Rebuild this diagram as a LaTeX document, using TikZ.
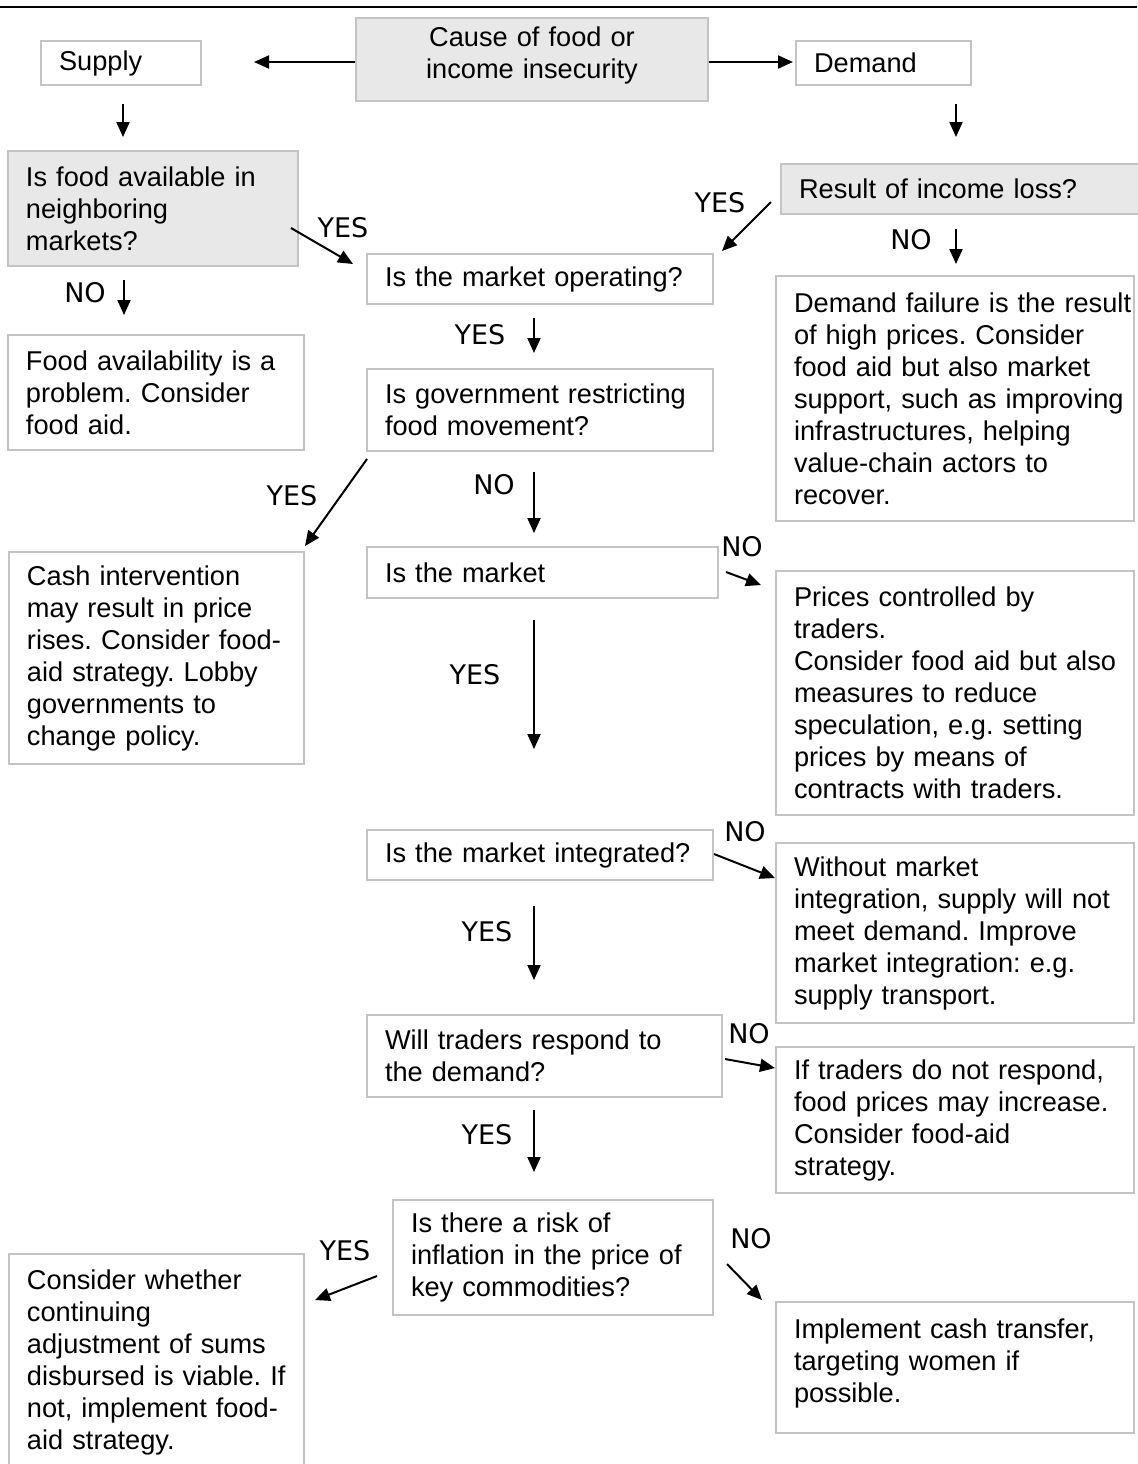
\documentclass[tikz,border=0pt]{standalone}
\usepackage{fontspec}
\setmainfont{Liberation Sans}
\newfontfamily\lblfamily{DejaVu Sans}
\usetikzlibrary{arrows.meta,calc}
\definecolor{boxline}{HTML}{C4C4C4}
\definecolor{boxfill}{HTML}{E8E8E8}
\begin{document}
\frenchspacing
\begin{tikzpicture}[x=0.5pt,y=-0.5pt,
  framed/.style={draw=boxline, line width=1pt, anchor=north west, inner sep=0pt,
    font=\fontsize{13.6pt}{16pt}\selectfont},
  box/.style={framed, align=left, execute at begin node={\leftskip=9pt}},
  cbox/.style={framed, align=center},
  sz/.style 2 args={minimum width=#1*0.5pt, minimum height=#2*0.5pt, text width=#1*0.5pt},
  shaded/.style={fill=boxfill},
  lbl/.style={font=\lblfamily\fontsize{13.5pt}{16pt}\selectfont, inner sep=0pt},
  arr/.style={line width=1pt, -{Triangle[length=7.5pt,width=6.5pt]}},
]
\useasboundingbox (0,0) rectangle (1137,1464);

% header rule
\draw[line width=1.3pt] (0,7) -- (1137,7);

% top row
\node[box, sz={160}{44}] (supply) at (40,40) {Supply};
\node[cbox, shaded, sz={352}{83}] (cause) at (355,17) {Cause of food or\\income insecurity\\[-9pt]\mbox{}};
\node[box, sz={175}{44}] (demand) at (795,40) {Demand};

% left column
\node[box, shaded, sz={290}{115}] (isfood) at (7,150) {Is food available in\\neighboring\\markets?};
\node[box, sz={296}{115}] (favail) at (7,334) {Food availability is a\\problem. Consider\\food aid.};
\node[box, sz={295}{212}] (cash) at (8,551) {Cash intervention\\may result in price\\rises. Consider food-\\aid strategy. Lobby\\governments to\\change policy.};
\node[box, sz={295}{217}] (consider) at (8,1253) {Consider whether\\continuing\\adjustment of sums\\disbursed is viable. If\\not, implement food-\\aid strategy.};

% middle column
\node[box, sz={346}{50}] (operating) at (366,253) {Is the market operating?};
\node[box, sz={346}{82}] (gov) at (366,368) {Is government restricting\\food movement?};
\node[box, sz={351}{51}] (market) at (366,546) {Is the market};
\node[box, sz={346}{50}] (integ) at (366,829) {Is the market integrated?};
\node[box, sz={355}{82}] (will) at (366,1014) {Will traders respond to\\the demand?};
\node[box, sz={320}{115}] (risk) at (392,1199) {Is there a risk of\\inflation in the price of\\key commodities?};

% right column
\node[box, shaded, sz={365}{50}] (result) at (780,163) {Result of income loss?};
\node[box, sz={358}{245}] (dfail) at (775,275) {Demand failure is the result\\of high prices. Consider\\food aid but also market\\support, such as improving\\infrastructures, helping\\value-chain actors to\\recover.};
\node[box, sz={358}{244}] (prices) at (775,570) {Prices controlled by\\traders.\\Consider food aid but also\\measures to reduce\\speculation, e.g. setting\\prices by means of\\contracts with traders.};
\node[box, sz={358}{180}] (without) at (775,842) {Without market\\integration, supply will not\\meet demand. Improve\\market integration: e.g.\\supply transport.};
\node[box, sz={358}{146}] (iftraders) at (775,1046) {If traders do not respond,\\food prices may increase.\\Consider food-aid\\strategy.};
\node[box, sz={358}{131}] (implement) at (775,1301) {Implement cash transfer,\\targeting women if\\possible.\\[-9pt]\mbox{}};

% branch labels
\node[lbl] (l1) at (343,228) {YES};
\node[lbl] (l2) at (720,203) {YES};
\node[lbl] (l3) at (911,240) {NO};
\node[lbl] (l4) at (85,293) {NO};
\node[lbl] (l5) at (480,335) {YES};
\node[lbl] (l6) at (292,496) {YES};
\node[lbl] (l7) at (494,485) {NO};
\node[lbl] (l8) at (742,547) {NO};
\node[lbl] (l9) at (475,675) {YES};
\node[lbl] (l10) at (745,832) {NO};
\node[lbl] (l11) at (487,932) {YES};
\node[lbl] (l12) at (749,1034) {NO};
\node[lbl] (l13) at (487,1135) {YES};
\node[lbl] (l14) at (345,1251) {YES};
\node[lbl] (l15) at (751,1239) {NO};

% connectors
\draw[arr] ($(cause.west)+(0,2.5)$) -- ($(supply.east)+(52,-1)$);
\draw[arr] ($(cause.east)+(0,2.5)$) -- ($(demand.west)+(-2,-1)$);
\draw[arr] ($(supply.south)+(2,18)$) -- ($(isfood.north)+(-30,-13)$);
\draw[arr] ($(demand.south)+(72.5,18)$) -- ($(result.north)+(-7.5,-26)$);
\draw[arr] ($(isfood.east)+(-8,19.5)$) -- ($(operating.north west)+(-13,11)$);
\draw[arr] ($(result.west)+(-9,13)$) -- ($(operating.north east)+(8,-2)$);
\draw[arr] ($(result.south)+(-7.5,14)$) -- ($(dfail.north)+(1,-11)$);
\draw[arr] ($(isfood.south)+(-29,13)$) -- ($(favail.north)+(-32,-19)$);
\draw[arr] ($(operating.south)+(-6,13)$) -- ($(gov.north)+(-6,-15)$);
\draw[arr] ($(gov.south west)+(1,7)$) -- ($(cash.north east)+(0,-5)$);
\draw[arr] ($(gov.south)+(-6,20)$) -- ($(market.north)+(-8.5,-13)$);
\draw[arr] ($(market.east)+(7,-0.5)$) -- ($(prices.north west)+(-14,15)$);
\draw[arr] ($(market.south)+(-8.5,21)$) -- ($(integ.north)+(-6,-80)$);
\draw[arr] ($(integ.east)+(0,-1)$) -- ($(without.north west)+(0,36)$);
\draw[arr] ($(integ.south)+(-6,25)$) -- ($(will.north)+(-10.5,-34)$);
\draw[arr] ($(will.east)+(2,3)$) -- ($(iftraders.north west)+(0,22)$);
\draw[arr] ($(will.south)+(-10.5,12)$) -- ($(risk.north)+(-19,-27)$);
\draw[arr] ($(risk.west)+(-15,18.5)$) -- ($(consider.north east)+(10,47)$);
\draw[arr] ($(risk.east)+(13,6.5)$) -- ($(implement.north west)+(-13,-1)$);
\end{tikzpicture}
\end{document}
